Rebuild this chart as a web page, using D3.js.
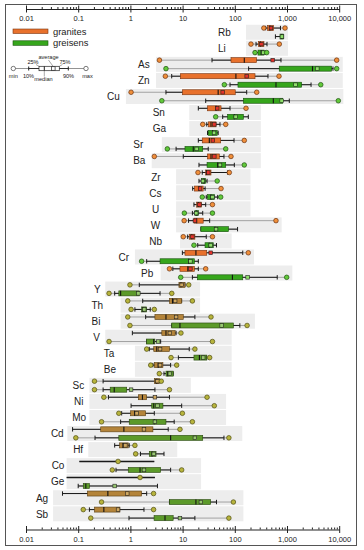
<!DOCTYPE html>
<html><head><meta charset="utf-8">
<script src="https://cdn.jsdelivr.net/npm/d3@7"></script>
<style>body{margin:0;background:#fff} text{font-family:Arial,"Liberation Sans",sans-serif;fill:#222}</style>
</head><body><svg id="c" width="364" height="550"></svg>
<script>
// ---------- data ----------
const elements = ["Rb","Li","As","Zn","Cu","Sn","Ga","Sr","Ba","Zr","Cs","U","W","Nb","Cr","Pb","Y","Th","Bi","V","Ta","Be","Sc","Ni","Mo","Cd","Hf","Co","Ge","Ag","Sb"];
// granites
const granMin = [360,204,3.6,4.67,1.03,null,24.3,null,2.87,19.7,null,null,10.7,10.3,null,5.6,0.98,0.89,0.89,null,2.05,2.45,0.205,0.31,0.6,null,null,null,null,null,0.125];
const granP10 = [390,255,36.6,6.18,4.8,20,29,20,10.3,23.8,15.6,16.5,13,12.5,9.9,6.5,1.48,1.72,1.96,1.09,2.3,2.7,0.3,0.38,0.68,0.078,0.5,0.105,0.06,0.05,0.164];
const granP25 = [423,282,84.5,9.04,9.9,30,31,23.8,30,27.7,16.8,18.6,16.5,13.4,11.1,8.9,8.5,5.6,2.95,4,2.8,2.87,2.87,1.42,1.01,0.27,0.62,null,null,0.15,0.205];
const granMed = [470,310,152,105,48,43.7,35,32.5,35,28.7,20.6,20,18.6,15,18,12.6,9.3,6.4,4.8,4.8,3.2,3.4,3.2,1.7,1.2,0.75,0.72,null,null,0.37,0.31];
const granAvg = [493,324,532,169,58.6,46,40.5,38,40.5,31,21.6,21,17.2,15.4,34.5,14.1,9.6,7.2,7.5,5.7,3.7,3.7,3.3,2.95,1.32,1.82,0.8,0.58,1.53,0.87,0.58];
const granP75 = [556,362,261,244,102,54.5,43.7,53.7,50.5,35,24.8,23,24.8,17.2,29,16.8,11.1,9.6,10.3,7.2,5.6,4.2,3.58,2.05,1.96,2.7,0.91,null,null,1.64,0.63];
const granP90 = [750,414,767,432,169,81,52,96.6,62,73,27,27.7,33,28.4,142,20,11.1,9.6,17.2,7.5,13.4,5.9,3.7,5.6,2.87,5.3,0.95,2.87,2.95,2.05,1.82];
const granMax = [916,713,8950,703,263,164,67,152,84.5,78.5,54.5,37.3,615,37.3,181.5,27.7,13.1,15.4,35,9.3,17.2,7.7,3.9,29.4,9.9,8.9,1.22,null,null,2.78,2.78];
// greisens
const greiMin = [null,244,4.8,63,4.0,43,null,5.1,null,null,23.8,10.8,null,16.5,1.64,9.2,0.39,1.03,0.98,0.39,6,3.58,0.205,null,0.28,0.09,1.26,0.45,null,0.28,0.174];
const greiP10 = [600,250,184,81,27.7,58.6,30,7.5,20.6,20.6,28.4,15.4,22.4,19.5,2.05,15.4,0.5,1.22,6.2,2.05,8.3,4.4,0.3,1.03,0.65,0.21,1.56,0.53,0.1,5.6,0.94];
const greiP25 = [735,278,710,115,146,73,31,11.1,29.4,23,30,17.2,22.4,26.9,3.7,19.2,0.6,1.64,6.2,2.05,16.5,4.8,0.41,2.56,0.95,0.6,2.3,0.91,0.125,5.6,2.84];
const greiMed = [790,320,3080,615,547,98,37.6,16,47,25.6,35,18.6,41.8,32.5,13.1,90,0.65,1.75,8.9,2.8,21,5.2,0.49,2.8,2.87,5.9,2.6,1.53,0.14,18,4.6];
const greiAvg = [800,350,3800,1455,790,104,40,18.6,52,24.5,37.3,18.2,43.7,34.5,14.1,176,1.42,1.84,56,3.4,24.8,5.7,1.03,3.3,2.95,17.2,2.8,1.82,0.5,22.4,8.9];
const greiP75 = [849,362,7180,1910,828,146,46,24.3,67,27.7,40.5,20,75.5,38.7,16.8,142,1.48,2.05,94,2.95,29,6.6,0.85,4.2,4.8,24.3,3.1,3.8,0.164,34.5,6.6];
const greiP90 = [860,380,7600,2890,1107,181.5,48,31,98,29.4,47,24.3,113,44.6,20,650,3.7,2.4,125,3.8,29,6.6,2.95,9.6,6.9,62,4.4,5.9,3.3,44.6,17.2];
const greiMax = [null,408,8950,4430,9620,null,null,67,152,46,53.7,37.3,null,null,null,986,6.2,2.87,172,37.3,33,null,5.6,40.5,15.4,77,null,9.6,null,94,77];
// grey background ranges and label anchors (value units)
const bgLo = [164,164,3.1,3.1,0.82,13.4,13.4,4,2.56,7.5,7.5,7.5,7.5,8.9,1.22,3.8,0.33,0.65,0.65,0.33,1.22,1.22,0.164,0.164,0.164,0.062,0.156,0.06,0.06,0.033,0.033];
const bgHi = [1045,1045,11700,11700,12000,316,316,316,316,200,200,200,790,87,233,1265,21.6,21.6,243,87,87,87,14.4,68,68,139,7.9,22.6,22.6,146,146];
const labelAt = [47.7,47.7,1.4,1.4,0.357,2.67,2.67,1.14,1.13,2.5,2.3,2.6,2.45,2.3,0.59,1.6,0.2,0.18,0.18,0.195,0.31,0.31,0.078,0.083,0.077,0.03,0.08,0.031,0.03,0.0155,0.0155];
const majorTicks = [0.01,0.1,1,10,100,1000,10000];
const series = ["granites","greisens"];

// ---------- drawing ----------
const svg = d3.select("#c");
svg.append("rect").attr("x",5.5).attr("y",4.5).attr("width",351).attr("height",541)
  .attr("fill","none").attr("stroke","#555");

const x = d3.scaleLog().domain([0.01,10000]).range([26,339.2]);
const y = d3.scaleBand().domain(elements).range([24.75,521.3]).paddingInner(0.065);
const sy = d3.scalePoint().domain(series).range([3.3,11.8]);

const pal = {
  top: {
    granites:{box:"#e8712c",edge:"#7a3510",circ:"#f08f3a",cedge:"#6a3010",avg:"#e4322a"},
    greisens:{box:"#36a61c",edge:"#17500c",circ:"#62c93a",cedge:"#1c5010",avg:"#8ee06a"}
  },
  bot: {
    granites:{box:"#b4843a",edge:"#5a3e12",circ:"#b7b43c",cedge:"#4f4c10",avg:"#d0a860"},
    greisens:{box:"#5c9a2a",edge:"#2a4a10",circ:"#b7b43c",cedge:"#4f4c10",avg:"#98c870"}
  }
};

// axes
const minorTicks = [];
majorTicks.slice(0,-1).forEach(d=>{for(let k=2;k<10;k++) minorTicks.push(+(k*d).toPrecision(3));});
function drawAxis(yPos){
  const g = svg.append("g").attr("transform",`translate(0,${yPos})`)
    .call(d3.axisBottom(x).tickValues(majorTicks.concat(minorTicks)).tickSizeInner(0).tickSizeOuter(0)
      .tickPadding(7).tickFormat(v=> majorTicks.includes(v)? d3.format(",")(v):""));
  g.select(".domain").attr("stroke","#222").attr("stroke-width",1);
  g.selectAll(".tick line").attr("stroke","#222")
    .attr("y1",d=> majorTicks.includes(d)? -3.5 : -2)
    .attr("y2",d=> majorTicks.includes(d)? 3.5 : 0);
  g.selectAll(".tick text").attr("font-size",7.5).attr("fill","#222").attr("font-family","Arial, Liberation Sans, sans-serif");
}
drawAxis(9);
drawAxis(529.5);

// backgrounds
const rows = svg.append("g");
elements.forEach((el,i)=>{
  rows.append("rect").attr("x",x(bgLo[i])).attr("y",y(el))
    .attr("width",x(bgHi[i])-x(bgLo[i])).attr("height",y.bandwidth()).attr("fill","#ededed");
  rows.append("text").attr("x",x(labelAt[i])).attr("y",y(el)+11.3)
    .attr("font-size",10).text(el);
});

const data = {
  granites:{min:granMin,p10:granP10,p25:granP25,med:granMed,avg:granAvg,p75:granP75,p90:granP90,max:granMax},
  greisens:{min:greiMin,p10:greiP10,p25:greiP25,med:greiMed,avg:greiAvg,p75:greiP75,p90:greiP90,max:greiMax}
};

elements.forEach((el,i)=>{
  series.forEach(s=>{
    const d = data[s];
    const c = (i>=16? pal.bot:pal.top)[s];
    const cy = y(el)+sy(s);
    const g = rows.append("g");
    const lo = d.min[i]!=null? d.min[i]: d.p10[i];
    const hi = d.max[i]!=null? d.max[i]: d.p90[i];
    g.append("line").attr("x1",x(lo)).attr("x2",x(hi)).attr("y1",cy).attr("y2",cy)
      .attr("stroke","#9a9a9a").attr("stroke-width",0.9);
    const boxless = d.p25[i]==null;
    g.append("line").attr("x1",x(d.p10[i])).attr("x2",x(d.p90[i])).attr("y1",cy).attr("y2",cy)
      .attr("stroke","#1a1a1a").attr("stroke-width",boxless?1.6:1);
    if(!boxless){
      [d.p10[i],d.p90[i]].forEach(v=>g.append("line").attr("x1",x(v)).attr("x2",x(v))
        .attr("y1",cy-2.2).attr("y2",cy+2.2).attr("stroke","#1a1a1a").attr("stroke-width",1));
      g.append("rect").attr("x",x(d.p25[i])).attr("y",cy-2.5)
        .attr("width",Math.max(1,x(d.p75[i])-x(d.p25[i]))).attr("height",5)
        .attr("fill",c.box).attr("stroke",c.edge).attr("stroke-width",0.6);
      g.append("line").attr("x1",x(d.med[i])).attr("x2",x(d.med[i])).attr("y1",cy-2.5).attr("y2",cy+2.5)
        .attr("stroke","#111").attr("stroke-width",1.1);
      g.append("rect").attr("x",x(d.avg[i])-1.8).attr("y",cy-1.8).attr("width",3.6).attr("height",3.6)
        .attr("fill",c.avg).attr("stroke","#222").attr("stroke-width",0.6);
    } else {
      g.append("circle").attr("cx",x(d.avg[i])).attr("cy",cy).attr("r",2.3)
        .attr("fill",c.circ).attr("stroke",c.cedge).attr("stroke-width",0.7);
    }
    [d.min[i],d.max[i]].forEach(v=>{
      if(v==null) return;
      g.append("circle").attr("cx",x(v)).attr("cy",cy).attr("r",2.3)
        .attr("fill",c.circ).attr("stroke",c.cedge).attr("stroke-width",0.7);
    });
  });
});

// legend
const lg = svg.append("g");
lg.append("rect").attr("x",13).attr("y",29).attr("width",35).attr("height",4.5)
  .attr("fill",pal.top.granites.box).attr("stroke",pal.top.granites.edge).attr("stroke-width",0.6);
lg.append("rect").attr("x",13).attr("y",40.8).attr("width",35).attr("height",4.5)
  .attr("fill",pal.top.greisens.box).attr("stroke",pal.top.greisens.edge).attr("stroke-width",0.6);
lg.append("text").attr("x",53).attr("y",34.5).attr("font-size",9.4).text("granites");
lg.append("text").attr("x",53).attr("y",46.3).attr("font-size",9.4).text("greisens");
// explanation key
const ky = 68.5;
lg.append("line").attr("x1",13.3).attr("x2",86).attr("y1",ky).attr("y2",ky).attr("stroke","#777").attr("stroke-width",0.8);
lg.append("line").attr("x1",28.7).attr("x2",68.3).attr("y1",ky).attr("y2",ky).attr("stroke","#222").attr("stroke-width",0.9);
[28.7,68.3].forEach(v=>lg.append("line").attr("x1",v).attr("x2",v).attr("y1",ky-2).attr("y2",ky+2).attr("stroke","#222"));
lg.append("rect").attr("x",39).attr("y",ky-2.2).attr("width",20.3).attr("height",4.4).attr("fill","#fff").attr("stroke","#222").attr("stroke-width",0.7);
lg.append("line").attr("x1",44.3).attr("x2",44.3).attr("y1",ky-2.2).attr("y2",ky+2.2).attr("stroke","#222");
lg.append("rect").attr("x",51.5).attr("y",ky-1.8).attr("width",3.6).attr("height",3.6).attr("fill","#fff").attr("stroke","#222").attr("stroke-width",0.7);
[13.3,86].forEach(v=>lg.append("circle").attr("cx",v).attr("cy",ky).attr("r",2.2).attr("fill","#fff").attr("stroke","#444").attr("stroke-width",0.7));
const kl = [["min",13.3,77.5],["10%",28.5,77.5],["median",43.5,81],["90%",68.5,77.5],["max",87.5,77.5],["25%",33,64],["average",48.5,59],["75%",65,64]];
kl.forEach(t=>lg.append("text").attr("x",t[1]).attr("y",t[2]).attr("font-size",5.6).attr("text-anchor","middle").attr("fill","#333").text(t[0]));
[[36,64.5,39,66.3],[48.5,60,53.3,66.7],[62.5,64.5,59.3,66.3],[44.3,70.7,44.3,76.5]].forEach(l=>
  lg.append("line").attr("x1",l[0]).attr("y1",l[1]).attr("x2",l[2]).attr("y2",l[3]).attr("stroke","#555").attr("stroke-width",0.5));
</script></body></html>
